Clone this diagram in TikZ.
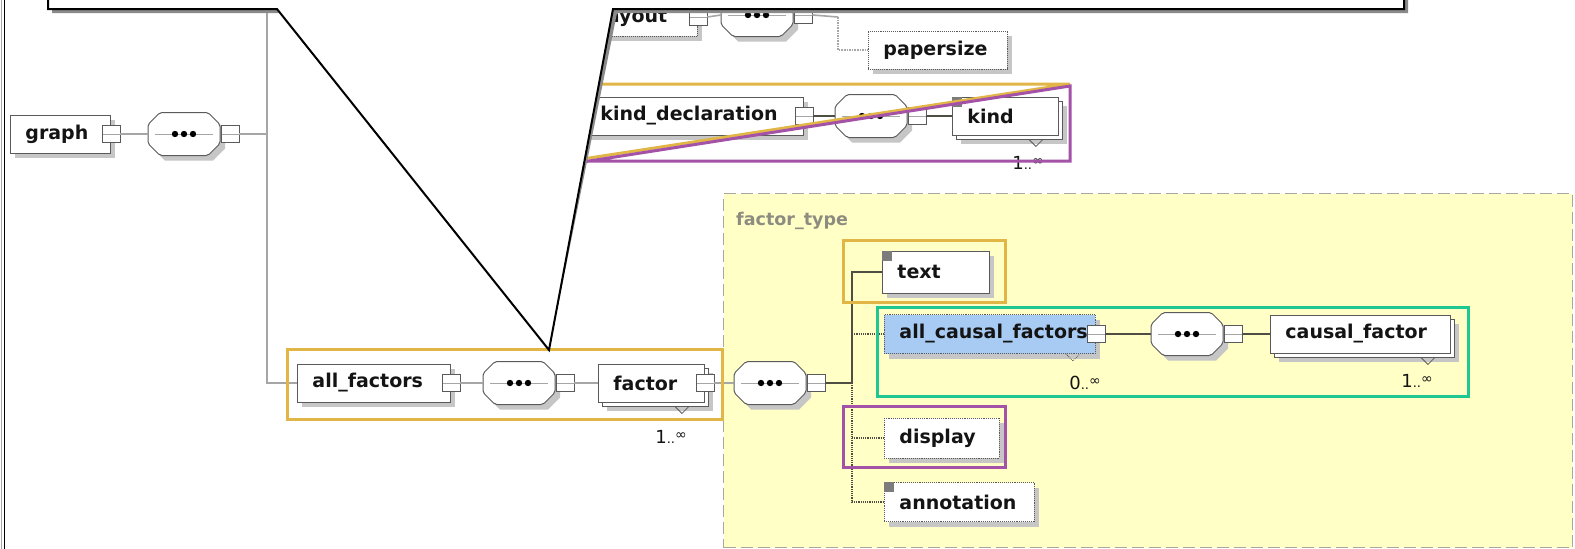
\documentclass[tikz,border=0pt]{standalone}
\usepackage{fontspec}
\setmainfont{DejaVu Sans}
\usetikzlibrary{shadows}

\definecolor{hlgold}{HTML}{E2B646}
\definecolor{hlpurple}{HTML}{A452A8}
\definecolor{hlgreen}{HTML}{1FC892}
\definecolor{typefill}{HTML}{FFFFC6}
\definecolor{typeedge}{HTML}{A8A8A0}
\definecolor{typetext}{HTML}{8C8C80}
\definecolor{cfblue}{HTML}{A8CBF3}
\definecolor{boxedge}{HTML}{5A5A5A}
\definecolor{shadowgray}{HTML}{C6C6C6}
\definecolor{wire}{HTML}{A6A6A6}
\definecolor{wiredk}{HTML}{4E4E44}
\definecolor{textblack}{HTML}{141414}
\definecolor{cornergray}{HTML}{7C7C7C}
\definecolor{calloutshadow}{HTML}{8A8A8A}

\newcommand{\elemfont}{\fontsize{19}{21}\selectfont\bfseries}
\newcommand{\multtext}[1]{{\fontsize{18}{19}\selectfont #1}{\fontsize{13}{13}\selectfont ..}\raisebox{4.5pt}{\fontsize{14}{14}\selectfont ∞}}

% octagonal sequence compositor drawn on the frame of a named node
\newcommand{\seqshape}[1]{%
  \path[fill=shadowgray, transform canvas={shift={(5pt,-5pt)}}]
    ([xshift=12pt]#1.north west) -- ([xshift=-12pt]#1.north east) -- ([yshift=-12pt]#1.north east)
    -- ([yshift=12pt]#1.south east) -- ([xshift=-12pt]#1.south east) -- ([xshift=12pt]#1.south west)
    -- ([yshift=12pt]#1.south west) -- ([yshift=-12pt]#1.north west) -- cycle;
  \path[fill=white, draw=boxedge, line width=1pt, rounded corners=2pt]
    ([xshift=12pt]#1.north west) -- ([xshift=-12pt]#1.north east) -- ([yshift=-12pt]#1.north east)
    -- ([yshift=12pt]#1.south east) -- ([xshift=-12pt]#1.south east) -- ([xshift=12pt]#1.south west)
    -- ([yshift=12pt]#1.south west) -- ([yshift=-12pt]#1.north west) -- cycle;
  \draw[wire, line width=1pt] ([xshift=7pt]#1.west) -- ([xshift=-7pt]#1.east);
  \fill[black] ([xshift=-9pt]#1.center) circle (3.2pt) (#1.center) circle (3.2pt) ([xshift=9pt]#1.center) circle (3.2pt);
}

\begin{document}
\begin{tikzpicture}[x=1pt,y=-1pt,
  base/.style={rectangle, draw=boxedge, line width=0.9pt, fill=white,
    minimum height=38pt, inner xsep=15pt, inner ysep=0pt, anchor=west,
    align=left, text=textblack, font=\elemfont},
  elem/.style={base, general shadow={fill=shadowgray, shadow xshift=5pt, shadow yshift=-5pt}},
  optelem/.style={elem, densely dotted},
  multi/.style={base, general shadow={fill=shadowgray, shadow xshift=9pt, shadow yshift=-9pt},
    copy shadow={shadow xshift=4pt, shadow yshift=-4pt}},
  conn/.style={rectangle, draw=boxedge, line width=0.8pt, fill=white,
    minimum width=18pt, minimum height=17pt, inner sep=0pt,
    path picture={\draw[wire, line width=0.9pt] (path picture bounding box.west) -- (path picture bounding box.east);}},
  seq/.style={rectangle, minimum width=72pt, minimum height=43pt, inner sep=0pt, outer sep=0pt},
  mult/.style={text=textblack, inner sep=0pt},
  wireln/.style={draw=wire, line width=1.6pt},
  wiredkln/.style={draw=wiredk, line width=1.2pt},
  notch/.style={draw=boxedge, line width=0.8pt},
  hlbox/.style={rectangle, line width=3pt, anchor=north west, inner sep=0pt},
  hl/.style={line width=3pt, line join=miter}
]
\useasboundingbox (0,0) rectangle (1575,549);
\fill[white] (0,0) rectangle (1575,549);

% ---------- complex type region ----------
\node[rectangle, draw=typeedge, fill=typefill, line width=1.4pt, dash pattern=on 12pt off 5pt,
      minimum width=849pt, minimum height=354pt, anchor=north west, inner sep=0pt] (ftype) at (723,193) {};
\node[anchor=west, font=\fontsize{17.5}{19}\selectfont\bfseries, text=typetext, inner sep=0pt] (ftlabel) at (736,221) {factor\_type};

% ---------- nodes ----------
% root
\node[elem, text width=70pt] (graph) at (10,134) {graph};
\node[seq] (seqA) at (184,134) {};
\coordinate (trunktop) at (267,5);
% layout
\node[optelem, text width=82pt] (layout) at (585,17) {layout};
\node[seq] (seqL) at (757,15) {};
\coordinate (forkL) at (838,17);
\node[optelem, text width=109pt] (paper) at (868,50) {papersize};
% kind_declaration
\node[elem, text width=188pt] (kdecl) at (585,116) {kind\_declaration};
\node[seq] (seqK) at (871,116) {};
\node[multi, text width=76pt] (kind) at (952,116) {kind};
\node[mult] (kindm) at (1028,163) {\multtext{1}};
% all_factors
\node[elem, text width=123pt] (allf) at (297,383) {all\_factors};
\node[seq] (seqB) at (519,383) {};
\node[multi, text width=76pt] (factor) at (598,383) {factor};
\node[mult] (factorm) at (671,437) {\multtext{1}};
\node[seq] (seqC) at (770,383) {};
\coordinate (fork) at (852,383);
% factor_type children
\node[elem, text width=77pt, minimum height=42pt] (txt) at (882,272) {text};
\node[optelem, fill=cfblue, text width=181pt, minimum height=39pt] (acf) at (884,334) {all\_causal\_factors};
\node[mult] (acfm) at (1085,383) {\multtext{0}};
\node[seq] (seqD) at (1187,334) {};
\node[multi, text width=150pt] (cf) at (1270,334) {causal\_factor};
\node[mult] (cfm) at (1417,381) {\multtext{1}};
\node[optelem, text width=85pt, minimum height=40pt] (disp) at (884,438) {display};
\node[optelem, text width=120pt, minimum height=39pt] (annot) at (884,502) {annotation};

% sequence compositors
\seqshape{seqA}
\seqshape{seqL}
\seqshape{seqK}
\seqshape{seqB}
\seqshape{seqC}
\seqshape{seqD}

% expand/collapse boxes
\node[conn] (graphc) at (graph.east) {};
\node[conn] (seqAc) at ([xshift=10pt]seqA.east) {};
\node[conn] (layoutc) at (layout.east) {};
\node[conn] (seqLc) at ([xshift=10pt]seqL.east) {};
\node[conn] (kdeclc) at (kdecl.east) {};
\node[conn] (seqKc) at ([xshift=10pt]seqK.east) {};
\node[conn] (allfc) at (allf.east) {};
\node[conn] (seqBc) at ([xshift=10pt]seqB.east) {};
\node[conn] (factorc) at (factor.east) {};
\node[conn] (seqCc) at ([xshift=10pt]seqC.east) {};
\node[conn] (acfc) at (acf.east) {};
\node[conn] (seqDc) at ([xshift=10pt]seqD.east) {};

% simple-content markers
\fill[cornergray] (txt.north west) rectangle ++(10pt,-10pt);
\fill[cornergray] (kind.north west) rectangle ++(10pt,-10pt);
\fill[cornergray] (annot.north west) rectangle ++(10pt,-10pt);

% repetition notches
\draw[notch] ([xshift=-30pt,yshift=-4pt]factor.south east) -- ++(7pt,-7pt) -- ++(7pt,7pt);
\draw[notch] ([xshift=-30pt,yshift=-4pt]kind.south east) -- ++(7pt,-7pt) -- ++(7pt,7pt);
\draw[notch] ([xshift=-30pt,yshift=-4pt]cf.south east) -- ++(7pt,-7pt) -- ++(7pt,7pt);
\draw[notch, densely dotted] ([xshift=-30pt,yshift=0pt]acf.south east) -- ++(7pt,-7pt) -- ++(7pt,7pt);

% ---------- connectors ----------
\draw[wireln] (graphc.east) -- (seqA.west);
\draw[wireln] (seqAc.east) -- (seqAc.east -| trunktop);
\draw[wireln] (trunktop) |- (allf.west);
\draw[wireln] (allfc.east) -- (seqB.west);
\draw[wireln] (seqBc.east) -- (factor.west);
\draw[wireln] (factorc.east) -- (seqC.west);
\draw[wireln] (layoutc.east) -- (seqL.west);
\draw[wireln] (seqLc.east) -- (forkL);
\draw[wireln, densely dotted] (forkL) |- (paper.west);
\draw[wiredkln] (kdeclc.east) -- (seqK.west);
\draw[wiredkln] (seqKc.east) -- (kind.west);

\draw[wiredkln] (seqCc.east) -- (fork);
\draw[wiredkln] (fork) |- (txt.west);
\draw[wiredkln, densely dotted] (fork) |- (annot.west);
\draw[wiredkln, densely dotted] (fork |- acf.west) -- (acf.west);
\draw[wiredkln, densely dotted] (fork |- disp.west) -- (disp.west);
\draw[wiredkln] (acfc.east) -- (seqD.west);
\draw[wiredkln] (seqDc.east) -- (cf.west);

% ---------- highlight frames ----------
\node[hlbox, draw=hlgold, minimum width=435pt, minimum height=70pt] (hlA) at (286,348) {};
\node[hlbox, draw=hlgold, minimum width=162pt, minimum height=62pt] (hlB) at (842,239) {};
\node[hlbox, draw=hlgreen, minimum width=591pt, minimum height=89pt] (hlC) at (876,306) {};
\node[hlbox, draw=hlpurple, minimum width=162pt, minimum height=61pt] (hlD) at (842,405) {};
\coordinate (kdA) at (570,84);
\coordinate (kdB) at (1070,84);
\coordinate (kdC) at (570,161);
\coordinate (kdD) at (570,164);
\coordinate (kdE) at (1070,86);
\coordinate (kdF) at (1070,161);
\draw[hl, hlgold] (kdA) -- (kdB) -- (kdC);
\draw[hl, hlpurple] (kdD) -- (kdE) -- (kdF) -- (kdC);

% ---------- callout ----------
\coordinate (tip) at (549,350);
\fill[calloutshadow, shift={(4,4)}] (48,-6) -- (48,9) -- (277,9) -- (tip) -- (613,9) -- (1404,9) -- (1404,-6) -- cycle;
\filldraw[fill=white, draw=black, line width=2pt, line join=miter] (48,-6) -- (48,9) -- (277,9) -- (tip) -- (613,9) -- (1404,9) -- (1404,-6) -- cycle;

% ---------- page edge ----------
\draw[black!35, line width=1pt] (1,0) -- (1,549);
\draw[black, line width=1.6pt] (4.5,0) -- (4.5,549);
\end{tikzpicture}
\end{document}
